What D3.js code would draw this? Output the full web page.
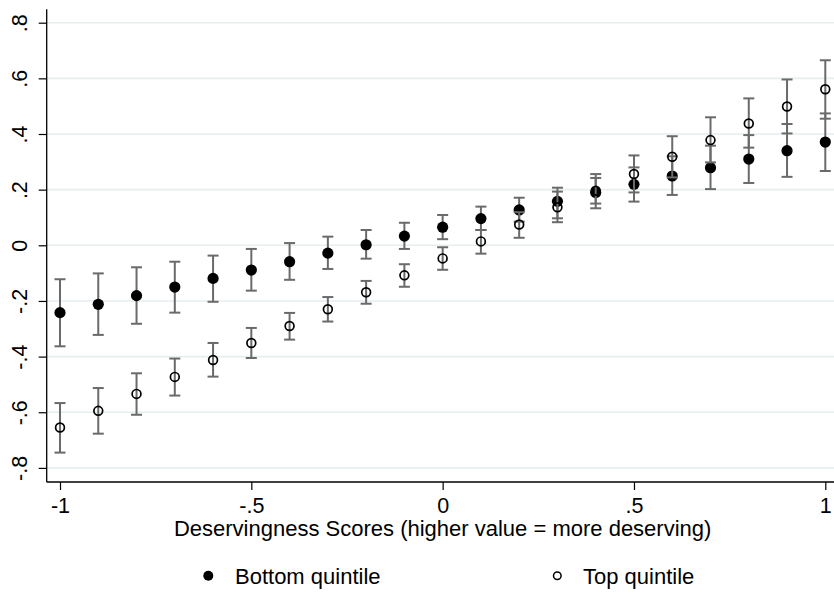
<!DOCTYPE html>
<html>
<head>
<meta charset="utf-8">
<script src="https://cdn.jsdelivr.net/npm/d3@7"></script>
<style>
  html, body { margin: 0; padding: 0; background: #fff; }
  svg { display: block; font-family: "Liberation Sans", Arial, Helvetica, sans-serif; }
</style>
</head>
<body>
<svg id="chart" width="834" height="593"></svg>
<script>
// ---- data ----
const xValues = [-1, -0.9, -0.8, -0.7, -0.6, -0.5, -0.4, -0.3, -0.2, -0.1, 0, 0.1, 0.2, 0.3, 0.4, 0.5, 0.6, 0.7, 0.8, 0.9, 1];

const bottomEst = [-0.242, -0.212, -0.181, -0.150, -0.119, -0.089, -0.059, -0.028, 0.002, 0.033, 0.065, 0.096, 0.127, 0.158, 0.190, 0.219, 0.249, 0.279, 0.310, 0.340, 0.371];
const bottomLo  = [-0.363, -0.322, -0.282, -0.242, -0.203, -0.163, -0.124, -0.085, -0.048, -0.013, 0.022, 0.055, 0.085, 0.097, 0.150, 0.157, 0.181, 0.202, 0.224, 0.246, 0.267];
const bottomHi  = [-0.122, -0.101, -0.079, -0.059, -0.037, -0.013, 0.008, 0.031, 0.055, 0.081, 0.109, 0.139, 0.171, 0.193, 0.242, 0.280, 0.320, 0.358, 0.396, 0.436, 0.474];

const topEst = [-0.655, -0.595, -0.534, -0.473, -0.412, -0.351, -0.290, -0.230, -0.169, -0.108, -0.047, 0.014, 0.075, 0.137, 0.196, 0.256, 0.318, 0.378, 0.438, 0.499, 0.561];
const topLo  = [-0.745, -0.677, -0.609, -0.540, -0.472, -0.405, -0.339, -0.274, -0.210, -0.149, -0.088, -0.030, 0.027, 0.083, 0.133, 0.190, 0.244, 0.298, 0.351, 0.402, 0.455];
const topHi  = [-0.567, -0.513, -0.460, -0.407, -0.351, -0.297, -0.243, -0.186, -0.128, -0.068, -0.007, 0.055, 0.119, 0.207, 0.256, 0.323, 0.392, 0.460, 0.528, 0.596, 0.665];

const yTicks = [-0.8, -0.6, -0.4, -0.2, 0, 0.2, 0.4, 0.6, 0.8];
const yTickLabels = ["-.8", "-.6", "-.4", "-.2", "0", ".2", ".4", ".6", ".8"];
const xTicks = [-1, -0.5, 0, 0.5, 1];
const xTickLabels = ["-1", "-.5", "0", ".5", "1"];

const xTitle = "Deservingness Scores (higher value = more deserving)";
const seriesNames = ["Bottom quintile", "Top quintile"];

// ---- layout ----
const plotLeft = 46.7, plotRight = 834, plotTop = 9.3, plotBottom = 482;
const x = d3.scaleLinear().domain([-1, 1]).range([60, 825.3]);
const y = d3.scaleLinear().domain([-0.8, 0.8]).range([467.9, 22.7]);

const svg = d3.select("#chart");
const fontSize = 21.5;
const titleSize = 22;
const barColor = "#6a6a6a";

// gridlines
svg.append("g").selectAll("line").data(yTicks).join("line")
  .attr("x1", plotLeft).attr("x2", plotRight)
  .attr("y1", d => y(d)).attr("y2", d => y(d))
  .attr("stroke", "#e6eef0").attr("stroke-width", 1.6);

// y axis
const yAxis = d3.axisLeft(y).tickValues(yTicks).tickSize(8)
  .tickFormat((d, i) => yTickLabels[i]);
const gy = svg.append("g").attr("transform", `translate(${plotLeft},0)`).call(yAxis);
gy.select(".domain").remove();
gy.selectAll(".tick line").attr("stroke", "#000").attr("stroke-width", 1.2);
gy.selectAll(".tick text")
  .attr("font-size", fontSize).attr("font-family", "Liberation Sans, Arial, sans-serif")
  .attr("fill", "#000")
  .attr("text-anchor", "middle")
  .attr("dy", null).attr("x", null)
  .attr("transform", "translate(-19.5,0) rotate(-90)")
  .attr("dominant-baseline", "alphabetic");
svg.append("line")
  .attr("x1", plotLeft).attr("x2", plotLeft)
  .attr("y1", plotTop).attr("y2", plotBottom)
  .attr("stroke", "#000").attr("stroke-width", 1.3);

// x axis
const xAxis = d3.axisBottom(x).tickValues(xTicks).tickSize(8)
  .tickFormat((d, i) => xTickLabels[i]);
const gx = svg.append("g").attr("transform", `translate(0,${plotBottom})`).call(xAxis);
gx.select(".domain").remove();
gx.selectAll(".tick line").attr("stroke", "#000").attr("stroke-width", 1.2);
gx.selectAll(".tick text")
  .attr("font-size", fontSize).attr("font-family", "Liberation Sans, Arial, sans-serif")
  .attr("fill", "#000")
  .attr("y", 31).attr("dy", null);
svg.append("line")
  .attr("x1", plotLeft).attr("x2", plotRight)
  .attr("y1", plotBottom).attr("y2", plotBottom)
  .attr("stroke", "#000").attr("stroke-width", 1.3);

// x title
svg.append("text")
  .attr("x", (x(-1) + x(1)) / 2).attr("y", 536)
  .attr("text-anchor", "middle").attr("font-size", titleSize)
  .text(xTitle);

// error bars helper
function drawBars(lo, hi) {
  const g = svg.append("g").attr("stroke", barColor).attr("stroke-width", 2).attr("fill", "none");
  const data = xValues.map((v, i) => ({ x: v, lo: lo[i], hi: hi[i] }));
  g.selectAll(".v").data(data).join("line").attr("class", "v")
    .attr("x1", d => x(d.x)).attr("x2", d => x(d.x))
    .attr("y1", d => y(d.lo)).attr("y2", d => y(d.hi));
  g.selectAll(".ct").data(data).join("line").attr("class", "ct")
    .attr("x1", d => x(d.x) - 5.5).attr("x2", d => x(d.x) + 5.5)
    .attr("y1", d => y(d.hi)).attr("y2", d => y(d.hi));
  g.selectAll(".cb").data(data).join("line").attr("class", "cb")
    .attr("x1", d => x(d.x) - 5.5).attr("x2", d => x(d.x) + 5.5)
    .attr("y1", d => y(d.lo)).attr("y2", d => y(d.lo));
}

// bottom quintile
drawBars(bottomLo, bottomHi);
svg.append("g").selectAll("circle").data(xValues.map((v, i) => [v, bottomEst[i]])).join("circle")
  .attr("cx", d => x(d[0])).attr("cy", d => y(d[1])).attr("r", 5.6).attr("fill", "#000");

// top quintile
drawBars(topLo, topHi);
svg.append("g").selectAll("circle").data(xValues.map((v, i) => [v, topEst[i]])).join("circle")
  .attr("cx", d => x(d[0])).attr("cy", d => y(d[1])).attr("r", 4.4)
  .attr("fill", "none").attr("stroke", "#000").attr("stroke-width", 1.7);

// legend
const leg = svg.append("g");
leg.append("circle").attr("cx", 208.3).attr("cy", 575.7).attr("r", 5).attr("fill", "#000");
leg.append("text").attr("x", 235).attr("y", 584).attr("font-size", titleSize).text(seriesNames[0]);
leg.append("circle").attr("cx", 557.3).attr("cy", 575.7).attr("r", 3.8)
  .attr("fill", "none").attr("stroke", "#000").attr("stroke-width", 1.5);
leg.append("text").attr("x", 583).attr("y", 584).attr("font-size", titleSize).text(seriesNames[1]);
</script>
</body>
</html>
